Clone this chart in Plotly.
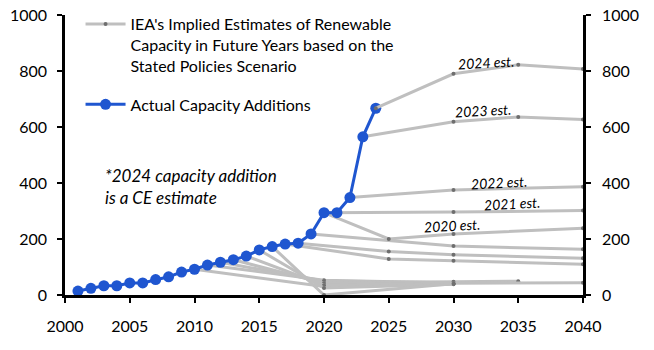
import plotly.graph_objects as go

# ---- data ----
actual_years = list(range(2001, 2025))
actual_values = [14, 24, 33, 33, 43, 43, 55, 65, 82, 92, 107, 117, 126, 139,
                 161, 173, 182, 185, 218, 294, 294, 348, 565, 667]

est_2024_years = [2024, 2030, 2035, 2040]
est_2024_values = [667, 790, 822, 807]
est_2023_years = [2023, 2030, 2035, 2040]
est_2023_values = [565, 619, 636, 627]
est_2022_years = [2022, 2030, 2040]
est_2022_values = [348, 375, 387]
est_2021_years = [2020, 2030, 2040]
est_2021_values = [294, 296, 302]
est_2020_years = [2020, 2025, 2030, 2040]
est_2020_values = [294, 200, 218, 238]
est_2019_years = [2019, 2030, 2040]
est_2019_values = [218, 175, 163]
est_2018_years = [2018, 2025, 2030, 2040]
est_2018_values = [185, 155, 144, 131]
est_2017_years = [2017, 2025, 2030, 2040]
est_2017_values = [182, 129, 122, 110]
est_2016_years = [2016, 2020, 2030]
est_2016_values = [173, 0, 40]
est_2015_years = [2015, 2020, 2030]
est_2015_values = [161, 25, 38]
est_2014_years = [2014, 2020, 2030, 2040]
est_2014_values = [139, 35, 42, 44]
est_2013_years = [2013, 2020, 2030, 2035]
est_2013_values = [126, 42, 47, 49]
est_2012_years = [2012, 2020, 2030]
est_2012_values = [117, 50, 45]
est_2011_years = [2011, 2020, 2030]
est_2011_values = [107, 53, 43]
est_2010_years = [2010, 2020, 2030]
est_2010_values = [92, 30, 40]

label_texts = ["2024 est.", "2023 est.", "2022 est.", "2021 est.", "2020 est."]
label_x = [2032.5, 2032.3, 2033.5, 2034.5, 2029.9]
label_y = [832, 658, 403, 328, 248]

yticks = [0, 200, 400, 600, 800, 1000]
xticks = [2000, 2005, 2010, 2015, 2020, 2025, 2030, 2035, 2040]

GREY = "#BFBFBF"
DOT = "#6E6E6E"
BLUE = "#1F56D0"
FONT = "Lato"

fig = go.Figure()

grey_lines = [
    (est_2010_years, est_2010_values), (est_2011_years, est_2011_values),
    (est_2012_years, est_2012_values), (est_2013_years, est_2013_values),
    (est_2014_years, est_2014_values), (est_2015_years, est_2015_values),
    (est_2016_years, est_2016_values), (est_2017_years, est_2017_values),
    (est_2018_years, est_2018_values), (est_2019_years, est_2019_values),
    (est_2020_years, est_2020_values), (est_2021_years, est_2021_values),
    (est_2022_years, est_2022_values), (est_2023_years, est_2023_values),
]

for i, (xs, ys) in enumerate(grey_lines):
    fig.add_trace(go.Scatter(
        x=xs, y=ys, mode="lines+markers",
        line=dict(color=GREY, width=3),
        marker=dict(color=DOT, size=4),
        name="IEA's Implied Estimates of Renewable<br>Capacity in Future Years based on the<br>Stated Policies Scenario",
        legendgroup="iea", showlegend=(i == 0), legendrank=1,
    ))

fig.add_trace(go.Scatter(
    x=actual_years, y=actual_values, mode="lines+markers",
    line=dict(color=BLUE, width=3),
    marker=dict(color=BLUE, size=11),
    name="Actual Capacity Additions", legendrank=2,
))

fig.add_trace(go.Scatter(
    x=est_2024_years, y=est_2024_values, mode="lines+markers",
    line=dict(color=GREY, width=3),
    marker=dict(color=DOT, size=4),
    legendgroup="iea", showlegend=False,
))

# invisible trace for right axis
fig.add_trace(go.Scatter(x=[2000], y=[0], yaxis="y2", mode="markers",
                         marker=dict(opacity=0), showlegend=False, hoverinfo="skip"))

for t, x, y in zip(label_texts, label_x, label_y):
    fig.add_annotation(x=x, y=y, text=t, showarrow=False, textangle=-3,
                       font=dict(family=FONT, size=14, color="#000000", style="italic"))

fig.add_annotation(x=2002.9, y=472, xanchor="left", yanchor="top", align="left",
                   text="*2024 capacity addition<br>is a CE estimate", showarrow=False,
                   font=dict(family=FONT, size=17, color="#000000", style="italic"))

axis_common = dict(showline=True, linecolor="black", linewidth=2.5, ticks="outside",
                   tickcolor="black", tickwidth=2, ticklen=5, showgrid=False, zeroline=False,
                   tickfont=dict(family=FONT, size=16, color="black"))

fig.update_layout(
    width=654, height=350,
    margin=dict(l=65, r=71, t=15, b=55, autoexpand=False),
    plot_bgcolor="white", paper_bgcolor="white",
    xaxis=dict(range=[2000, 2040], tickvals=xticks, ticklabelstandoff=10, **axis_common),
    yaxis=dict(range=[0, 1000], tickvals=yticks, ticklabelstandoff=7, **axis_common),
    yaxis2=dict(range=[0, 1000], tickvals=yticks, overlaying="y", side="right",
                ticklabelstandoff=8, **axis_common),
    legend=dict(x=0.03, y=0.98, yref="container", xanchor="left", yanchor="top",
                bgcolor="rgba(0,0,0,0)",
                font=dict(family=FONT, size=16, color="black"), tracegroupgap=15,
                itemwidth=40, valign="top"),
    font=dict(family=FONT),
)

fig.write_html("out.html")
